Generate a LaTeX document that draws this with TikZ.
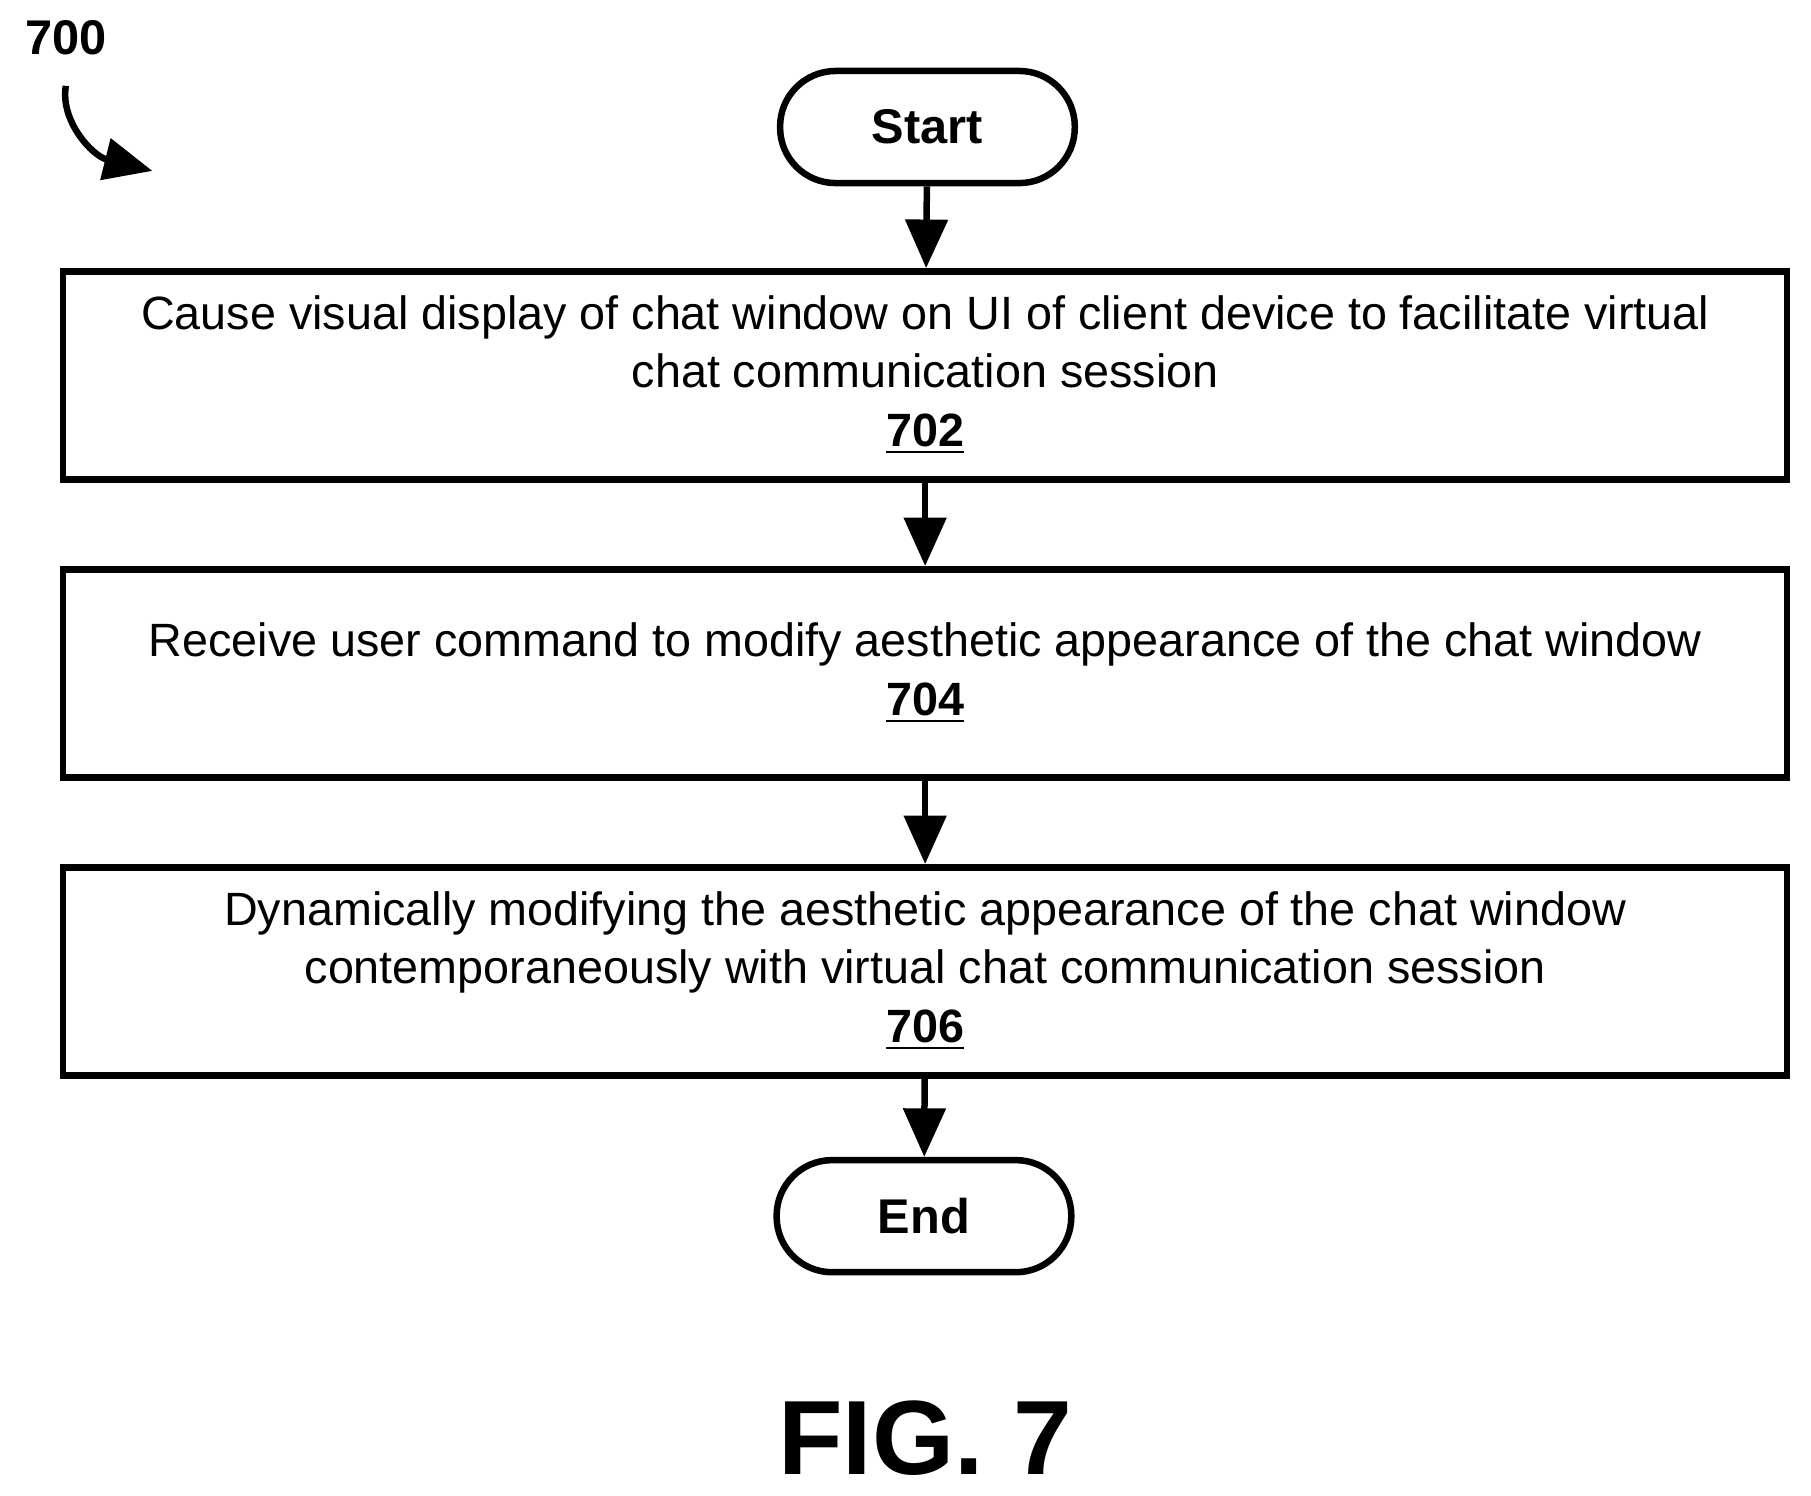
\documentclass[tikz,border=0pt]{standalone}
\usepackage{fontspec}
\setmainfont{Liberation Sans}
\usetikzlibrary{arrows.meta}
\tikzset{
  stepbox/.style = {draw, line width=1.6pt, minimum width=14.92cm, minimum height=1.8cm, align=center, font=\fontsize{11.5}{14.3}\selectfont},
  term/.style = {draw, line width=1.6pt, rounded corners=0.48cm, minimum width=2.55cm, minimum height=0.97cm, font=\fontsize{12}{14}\selectfont\bfseries},
  flow/.style = {line width=1.6pt, -{Triangle[length=0.42cm, width=0.36cm]}}
}
\begin{document}
\begin{tikzpicture}[x=0.01cm, y=-0.01cm]
\useasboundingbox (0,0) rectangle (1568,1295);
\node[term] (start) at (803,110) {Start};
\node[stepbox] (s702) at (801,325) {Cause visual display of chat window on UI of client device to facilitate virtual\\ chat communication session\\ \textbf{\underline{702}}};
\node[stepbox] (s704) at (801,583) {Receive user command to modify aesthetic appearance of the chat window\\ \textbf{\underline{704}}};
\node[stepbox] (s706) at (801,841) {Dynamically modifying the aesthetic appearance of the chat window\\ contemporaneously with virtual chat communication session\\ \textbf{\underline{706}}};
\node[term] (end) at (800,1053) {End};
\node[font=\fontsize{12}{14}\selectfont\bfseries] (fig) at (57,33) {700};
\coordinate (tip) at (132,148);
\node[font=\fontsize{26}{30}\selectfont\bfseries] (caption) at (801,1245) {FIG. 7};

\draw[flow] (start) -- (s702);
\draw[flow] (s702) -- (s704);
\draw[flow] (s704) -- (s706);
\draw[flow] (s706) -- (end);
\draw[flow] (fig.south) ++(0,14) .. controls (52,105) and (80,135) .. (tip);
\end{tikzpicture}
\end{document}
